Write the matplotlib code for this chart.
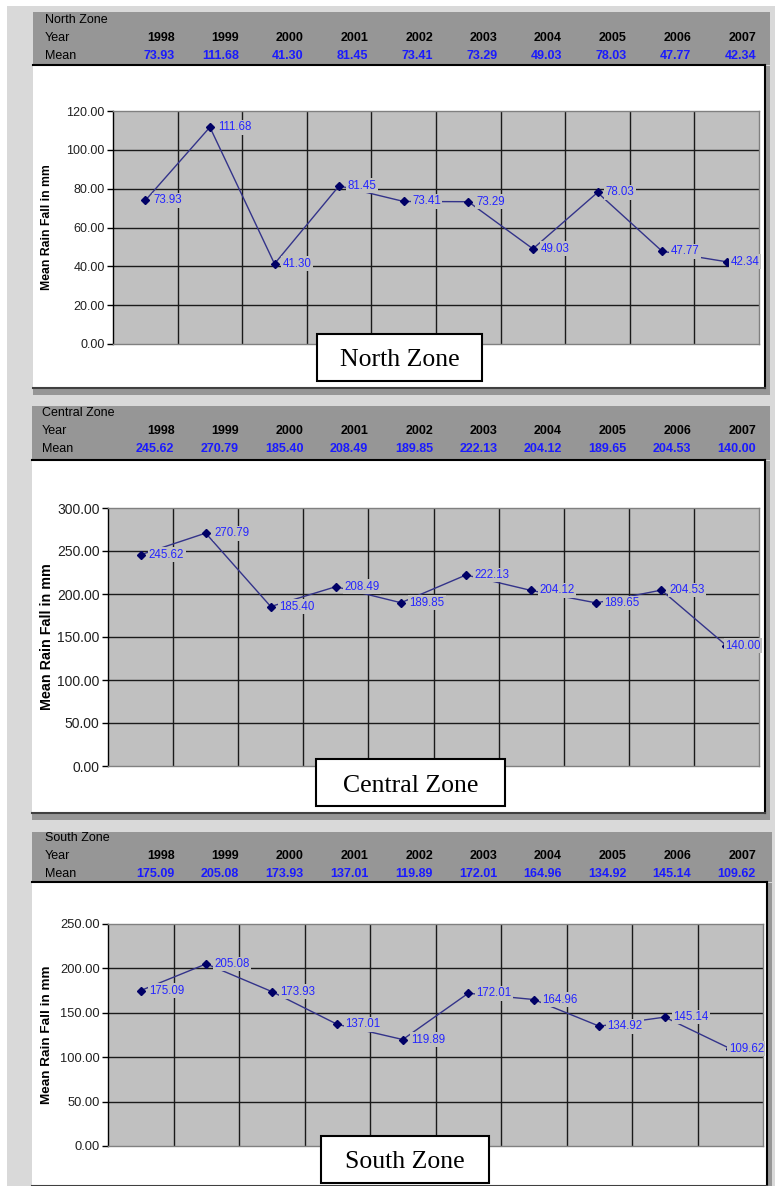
import matplotlib.pyplot as plt
from matplotlib.patches import Rectangle

# Data
years = ['1998', '1999', '2000', '2001', '2002', '2003', '2004', '2005', '2006', '2007']
zones = ['North Zone', 'Central Zone', 'South Zone']
north_mean = [73.93, 111.68, 41.30, 81.45, 73.41, 73.29, 49.03, 78.03, 47.77, 42.34]
central_mean = [245.62, 270.79, 185.40, 208.49, 189.85, 222.13, 204.12, 189.65, 204.53, 140.00]
south_mean = [175.09, 205.08, 173.93, 137.01, 119.89, 172.01, 164.96, 134.92, 145.14, 109.62]
y_max = [120, 300, 250]
y_step = [20, 50, 50]

W, H = 775, 1186
fig = plt.figure(figsize=(W / 100, H / 100), dpi=100)
fig.patch.set_facecolor('white')
plt.rcParams['font.family'] = ['Liberation Sans', 'DejaVu Sans']


def frect(x0, y0, x1, y1, fc, ec='none', lw=0, z=-1):
    r = Rectangle((x0 / W, 1 - y1 / H), (x1 - x0) / W, (y1 - y0) / H,
                  transform=fig.transFigure, facecolor=fc, edgecolor=ec,
                  linewidth=lw, zorder=z)
    fig.add_artist(r)


def fline(x0, y0, x1, y1, color='black', lw=1.2, z=-0.5):
    fig.add_artist(plt.Line2D([x0 / W, x1 / W], [1 - y0 / H, 1 - y1 / H],
                              transform=fig.transFigure, color=color, lw=lw, zorder=z))


def ftext(x, y, s, **kw):
    fig.text(x / W, 1 - y / H, s, **kw)


# outer background
frect(7, 6, W, H, '#d9d9d9', z=-3)

# panel layout in pixels
layout = [
    dict(hdr=(33, 12, 770, 65), white=(33, 66, 765, 388), bottom=395, plot=(113, 111, 759, 344),
         name_x=45, rows=(20, 38, 56), box=(317, 334, 482, 381), tick_fs=9, lab_fs=8.8, last_dx=3),
    dict(hdr=(32, 406, 770, 460), white=(32, 461, 765, 813), bottom=820, plot=(108, 508, 759, 766),
         name_x=42, rows=(413, 431, 449), box=(316, 759, 505, 806), tick_fs=10, lab_fs=10.3, last_dx=-1),
    dict(hdr=(32, 832, 772, 882), white=(32, 883, 767, 1186), bottom=1190, plot=(108, 924, 763, 1146),
         name_x=45, rows=(838, 856, 874), box=(321, 1136, 489, 1183), tick_fs=9.3, lab_fs=9.7, last_dx=-1),
]

all_means = [north_mean, central_mean, south_mean]

for k, (zone, means, L) in enumerate(zip(zones, all_means, layout)):
    hx0, hy0, hx1, hy1 = L['hdr']
    wx0, wy0, wx1, wy1 = L['white']
    # header band + table
    frect(hx0, hy0, hx1, hy1, '#969696', z=-2)
    fline(hx0, hy1, wx1, hy1, lw=1.5)
    # chart area with shadow
    frect(wx0, wy0, hx1, L['bottom'], '#969696', z=-2)
    frect(wx0, wy0, wx1, wy1, 'white', z=-1.5)
    fline(wx1, hy1, wx1, wy1, lw=1.5, z=-1)
    fline(wx0, wy1, wx1, wy1, color='#404040', lw=1.5, z=-1)

    r0, r1, r2 = L['rows']
    ftext(L['name_x'], r0, zone, fontsize=9, va='center', ha='left')
    ftext(L['name_x'], r1, 'Year', fontsize=9, va='center', ha='left')
    ftext(L['name_x'], r2, 'Mean', fontsize=9, va='center', ha='left')
    for i, (yr, v) in enumerate(zip(years, means)):
        xr = 174.5 + i * 64.6
        ftext(xr, r1, yr, fontsize=9, fontweight='bold', va='center', ha='right')
        ftext(xr, r2, f'{v:.2f}', fontsize=9, fontweight='bold', va='center', ha='right',
              color='#1a1aff')

    # plot area
    px0, py0, px1, py1 = L['plot']
    ax = fig.add_axes([px0 / W, 1 - py1 / H, (px1 - px0) / W, (py1 - py0) / H])
    ax.set_facecolor('#c0c0c0')
    ax.set_xlim(-0.5, len(years) - 0.5)
    ax.set_ylim(0, y_max[k])
    ax.set_yticks(range(0, y_max[k] + 1, y_step[k]))
    ax.set_yticklabels([f'{t:.2f}' for t in range(0, y_max[k] + 1, y_step[k])],
                       fontsize=L['tick_fs'], color='#202020')
    ax.tick_params(axis='y', direction='out', length=4, width=1, color='black', pad=2)
    ax.set_xticks([])
    for s in ['top', 'right', 'bottom']:
        ax.spines[s].set_color('#808080')
        ax.spines[s].set_linewidth(1)
    ax.spines['left'].set_color('black')
    ax.spines['left'].set_linewidth(1)
    for t in range(y_step[k], y_max[k], y_step[k]):
        ax.axhline(t, color='#1a1a1a', lw=1, zorder=1)
    for i in range(len(years) - 1):
        ax.axvline(i + 0.5, color='#1a1a1a', lw=1, zorder=1)

    xs = list(range(len(years)))
    ax.plot(xs, means, color='#33338a', lw=1, zorder=2)
    ax.plot(xs, means, linestyle='none', marker='D', ms=4.5, color='#000066', zorder=3)
    for i, v in enumerate(means):
        dx = 6 if i < len(means) - 1 else L['last_dx']
        ax.annotate(f'{v:.2f}', (i, v), xytext=(dx, 0), textcoords='offset points',
                    ha='left', va='center', fontsize=8.3, color='#2525ff', zorder=4,
                    annotation_clip=False,
                    bbox=dict(boxstyle='square,pad=0.12', fc='#c0c0c0', ec='none'))

    ftext(47, (py0 + py1) / 2, 'Mean Rain Fall in mm', rotation=90, fontsize=L['lab_fs'],
          fontweight='bold', ha='center', va='center')

    # zone title box
    bx0, by0, bx1, by1 = L['box']
    frect(bx0, by0, bx1, by1, 'white', ec='black', lw=1.5, z=5)
    ftext((bx0 + bx1) / 2, (by0 + by1) / 2 + 3, zone, fontsize=18.5, family='Liberation Serif',
          ha='center', va='center', zorder=6)

fig.savefig('out.png', dpi=100)
